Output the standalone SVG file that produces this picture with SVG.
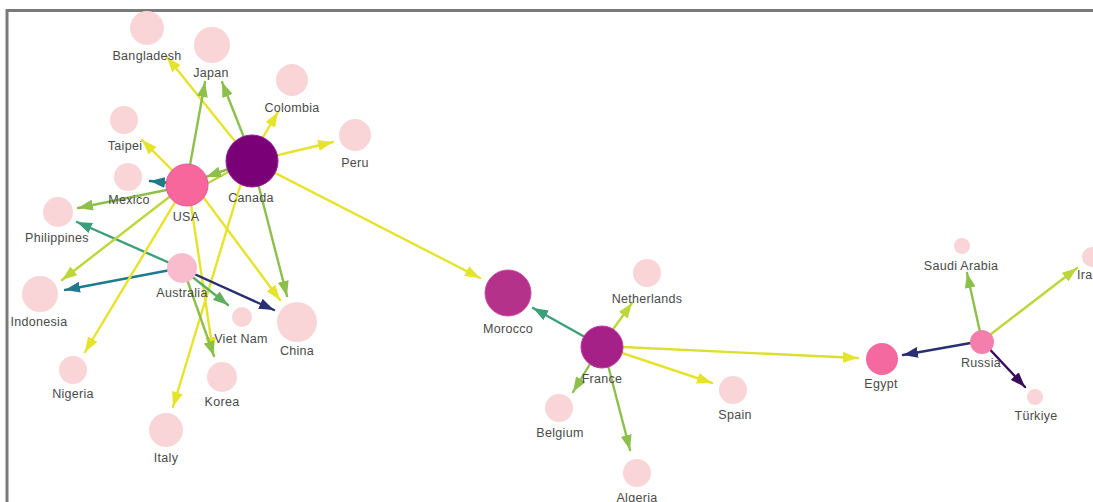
<svg xmlns="http://www.w3.org/2000/svg" width="1093" height="502" viewBox="0 0 1093 502">
<style>
.e{fill:none;stroke-width:2.4;stroke-linecap:round}
.y{stroke:#E6E32B}.yg{stroke:#BDD63A}.g{stroke:#8CC04B}.tg{stroke:#3D9F7A}.t{stroke:#1E7B8C}.n{stroke:#2A2E72}.p{stroke:#3B0B5C}.vg{stroke:#5FAF60}
.leaf{fill:#F9D5D8}
text{font-family:"Liberation Sans",Arial,sans-serif;font-size:12.5px;fill:#4a4a4a;text-anchor:middle;letter-spacing:0.3px}
</style>
<defs>
<marker id="my" markerUnits="userSpaceOnUse" markerWidth="15" markerHeight="11" viewBox="0 0 15 11" refX="15" refY="5.5" orient="auto"><path d="M0,0L15,5.5L0,11z" fill="#E6E32B"/></marker>
<marker id="myg" markerUnits="userSpaceOnUse" markerWidth="15" markerHeight="11" viewBox="0 0 15 11" refX="15" refY="5.5" orient="auto"><path d="M0,0L15,5.5L0,11z" fill="#BDD63A"/></marker>
<marker id="mg" markerUnits="userSpaceOnUse" markerWidth="15" markerHeight="11" viewBox="0 0 15 11" refX="15" refY="5.5" orient="auto"><path d="M0,0L15,5.5L0,11z" fill="#8CC04B"/></marker>
<marker id="mtg" markerUnits="userSpaceOnUse" markerWidth="15" markerHeight="11" viewBox="0 0 15 11" refX="15" refY="5.5" orient="auto"><path d="M0,0L15,5.5L0,11z" fill="#3D9F7A"/></marker>
<marker id="mvg" markerUnits="userSpaceOnUse" markerWidth="15" markerHeight="11" viewBox="0 0 15 11" refX="15" refY="5.5" orient="auto"><path d="M0,0L15,5.5L0,11z" fill="#5FAF60"/></marker>
<marker id="mt" markerUnits="userSpaceOnUse" markerWidth="15" markerHeight="11" viewBox="0 0 15 11" refX="15" refY="5.5" orient="auto"><path d="M0,0L15,5.5L0,11z" fill="#1E7B8C"/></marker>
<marker id="mn" markerUnits="userSpaceOnUse" markerWidth="15" markerHeight="11" viewBox="0 0 15 11" refX="15" refY="5.5" orient="auto"><path d="M0,0L15,5.5L0,11z" fill="#2A2E72"/></marker>
<marker id="mp" markerUnits="userSpaceOnUse" markerWidth="15" markerHeight="11" viewBox="0 0 15 11" refX="15" refY="5.5" orient="auto"><path d="M0,0L15,5.5L0,11z" fill="#3B0B5C"/></marker>
</defs>
<rect x="0" y="0" width="1093" height="502" fill="#ffffff"/>
<rect x="7" y="10.5" width="1100" height="500" fill="none" stroke="#7a7a7a" stroke-width="3"/>

<g id="connectors">
<line class="e y" x1="250" y1="160" x2="167" y2="57" marker-end="url(#my)"/>
<line class="e g" x1="190" y1="165" x2="205" y2="82" marker-end="url(#mg)"/>
<line class="e g" x1="245" y1="140" x2="222" y2="82" marker-end="url(#mg)"/>
<line class="e y" x1="260" y1="142" x2="278" y2="112" marker-end="url(#my)"/>
<line class="e y" x1="270" y1="157" x2="333" y2="142" marker-end="url(#my)"/>
<line class="e y" x1="178" y1="176" x2="142" y2="140" marker-end="url(#my)"/>
<line class="e t" x1="180" y1="184" x2="150" y2="181" marker-end="url(#mt)" style="stroke:#1B6B7B"/>
<line class="e g" x1="186" y1="186" x2="78" y2="208" marker-end="url(#mg)"/>
<line class="e yg" x1="190" y1="193" x2="250" y2="160"/>
<line class="e g" x1="245" y1="163" x2="206" y2="177" marker-end="url(#mg)"/>
<line class="e tg" x1="181" y1="268" x2="77" y2="222" marker-end="url(#mtg)"/>
<line class="e yg" x1="186" y1="184" x2="62" y2="280" marker-end="url(#myg)"/>
<line class="e t" x1="181" y1="268" x2="65" y2="290" marker-end="url(#mt)"/>
<line class="e y" x1="186" y1="184" x2="85" y2="352" marker-end="url(#my)"/>
<line class="e y" x1="195" y1="186" x2="280" y2="300" marker-end="url(#my)"/>
<line class="e g" x1="252" y1="160" x2="287" y2="296" marker-end="url(#mg)"/>
<line class="e y" x1="248" y1="160" x2="173" y2="407" marker-end="url(#my)"/>
<line class="e y" x1="188" y1="184" x2="213" y2="352" marker-end="url(#my)"/>
<line class="e g" x1="183" y1="268" x2="214" y2="356" marker-end="url(#mg)"/>
<line class="e vg" x1="181" y1="268" x2="228" y2="305" marker-end="url(#mvg)"/>
<line class="e n" x1="181" y1="268" x2="274" y2="310" marker-end="url(#mn)"/>
<line class="e y" x1="250" y1="160" x2="480" y2="278" marker-end="url(#my)"/>
<line class="e tg" x1="601" y1="346" x2="533" y2="308" marker-end="url(#mtg)"/>
<line class="e yg" x1="601" y1="346" x2="632" y2="303" marker-end="url(#myg)"/>
<line class="e g" x1="601" y1="346" x2="573" y2="392" marker-end="url(#mg)"/>
<line class="e g" x1="603" y1="346" x2="630" y2="450" marker-end="url(#mg)"/>
<line class="e y" x1="601" y1="346" x2="712" y2="383" marker-end="url(#my)"/>
<line class="e y" x1="601" y1="346" x2="858" y2="358" marker-end="url(#my)" style="stroke:#DCE02C"/>
<line class="e n" x1="982" y1="341" x2="903" y2="355" marker-end="url(#mn)"/>
<line class="e g" x1="982" y1="341" x2="967" y2="273" marker-end="url(#mg)"/>
<line class="e yg" x1="982" y1="341" x2="1077" y2="268" marker-end="url(#myg)"/>
<line class="e p" x1="982" y1="341" x2="1025" y2="387" marker-end="url(#mp)"/>
</g>

<g id="node-bangladesh"><circle class="leaf" cx="147" cy="28" r="17"/><text x="147" y="60">Bangladesh</text></g>
<g id="node-japan"><circle class="leaf" cx="212" cy="45" r="18"/><text x="211" y="77">Japan</text></g>
<g id="node-colombia"><circle class="leaf" cx="292" cy="80" r="16"/><text x="292" y="112">Colombia</text></g>
<g id="node-peru"><circle class="leaf" cx="355" cy="135" r="16"/><text x="355" y="167">Peru</text></g>
<g id="node-taipei"><circle class="leaf" cx="124" cy="120" r="14"/><text x="125" y="150">Taipei</text></g>
<g id="node-mexico"><circle class="leaf" cx="128" cy="177" r="14"/><text x="129" y="204">Mexico</text></g>
<g id="node-philippines"><circle class="leaf" cx="58" cy="212" r="15"/><text x="57" y="242">Philippines</text></g>
<g id="node-usa"><circle cx="187" cy="185" r="21" fill="#F7679C" stroke="#E05AA0" stroke-width="1"/><text x="186" y="221">USA</text></g>
<g id="node-canada"><circle cx="252" cy="161" r="26" fill="#7A0078" stroke="#9A1A98" stroke-width="1"/><text x="251" y="202">Canada</text></g>
<g id="node-australia"><circle cx="182" cy="268" r="15" fill="#F8BCCD"/><text x="182" y="297">Australia</text></g>
<g id="node-indonesia"><circle class="leaf" cx="40" cy="294" r="18"/><text x="39" y="326">Indonesia</text></g>
<g id="node-vietnam"><circle class="leaf" cx="242" cy="317" r="10"/><text x="241" y="343">Viet Nam</text></g>
<g id="node-china"><circle class="leaf" cx="297" cy="322" r="20"/><text x="297" y="355">China</text></g>
<g id="node-nigeria"><circle class="leaf" cx="73" cy="370" r="14"/><text x="73" y="398">Nigeria</text></g>
<g id="node-korea"><circle class="leaf" cx="222" cy="377" r="15"/><text x="222" y="406">Korea</text></g>
<g id="node-italy"><circle class="leaf" cx="166" cy="430" r="17"/><text x="166" y="462">Italy</text></g>
<g id="node-morocco"><circle cx="508" cy="293" r="23" fill="#B5328B" stroke="#C64A9C" stroke-width="1"/><text x="508" y="333">Morocco</text></g>
<g id="node-france"><circle cx="602" cy="347" r="21" fill="#A52188" stroke="#C03AA0" stroke-width="1"/><text x="602" y="383">France</text></g>
<g id="node-netherlands"><circle class="leaf" cx="647" cy="273" r="14"/><text x="647" y="303">Netherlands</text></g>
<g id="node-belgium"><circle class="leaf" cx="559" cy="408" r="14"/><text x="560" y="437">Belgium</text></g>
<g id="node-spain"><circle class="leaf" cx="733" cy="390" r="14"/><text x="735" y="419">Spain</text></g>
<g id="node-algeria"><circle class="leaf" cx="637" cy="473" r="14"/><text x="637" y="502">Algeria</text></g>
<g id="node-egypt"><circle cx="882" cy="359" r="16" fill="#F4699F"/><text x="881" y="388">Egypt</text></g>
<g id="node-russia"><circle cx="982" cy="342" r="12" fill="#F47FAD"/><text x="981" y="367">Russia</text></g>
<g id="node-saudi"><circle class="leaf" cx="962" cy="246" r="8"/><text x="961" y="270">Saudi Arabia</text></g>
<g id="node-iran"><circle class="leaf" cx="1092" cy="257" r="10"/><text x="1077" y="279" style="text-anchor:start">Iran</text></g>
<g id="node-turkiye"><circle class="leaf" cx="1035" cy="397" r="8"/><text x="1036" y="420">Türkiye</text></g>
</svg>
